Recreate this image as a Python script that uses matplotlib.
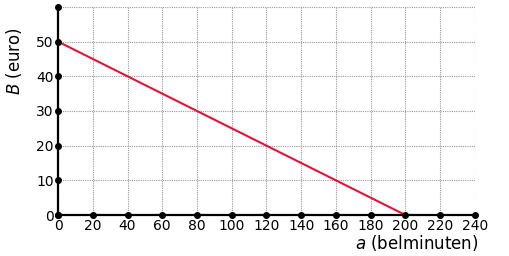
import matplotlib
matplotlib.use('Agg')
import matplotlib.pyplot as plt
import numpy as np

x_ticks = [0, 20, 40, 60, 80, 100, 120, 140, 160, 180, 200, 220, 240]
y_ticks = [0, 10, 20, 30, 40, 50, 60]
y_labels = ['0', '10', '20', '30', '40', '50', '']
line_a = [0, 200]
line_B = [50, 0]

fig = plt.figure(figsize=(5.09, 2.56), dpi=100)
ax = fig.add_axes([0.114, 0.16, 0.819, 0.813])

ax.plot(line_a, line_B, color='#e0143c', lw=1.5, zorder=3)

ax.set_xlim(0, 240)
ax.set_ylim(0, 60)
ax.set_xticks(x_ticks)
ax.set_yticks(y_ticks)
ax.set_yticklabels(y_labels)
ax.grid(True, color='#9a9a9a', ls=(0, (1, 1)), lw=0.8)
for s in ['top', 'right']:
    ax.spines[s].set_visible(False)
for s in ['left', 'bottom']:
    ax.spines[s].set_linewidth(1.6)
ax.tick_params(length=0, labelsize=10, pad=3)

# dots on the axes at each tick
ax.plot(x_ticks, [0] * len(x_ticks), 'o', color='k', ms=4, clip_on=False, zorder=4)
ax.plot([0] * len(y_ticks), y_ticks, 'o', color='k', ms=4, clip_on=False, zorder=4)

fig.text(0.028, 0.76, r'$\it{B}$ (euro)', rotation=90, fontsize=12, ha='center', va='center')
fig.text(0.94, 0.05, r'$\it{a}$ (belminuten)', fontsize=12, ha='right', va='center')

fig.savefig('out.png', dpi=100)
